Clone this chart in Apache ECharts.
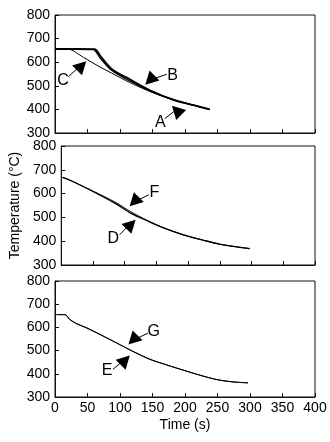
<!DOCTYPE html>
<html><head><meta charset="utf-8">
<script src="https://cdn.jsdelivr.net/npm/echarts@6/dist/echarts.min.js"></script>
<style>html,body{margin:0;padding:0;background:#fff}#c{width:330px;height:442px}</style>
</head><body><div id="c"></div>
<script>
// ---- data ----
const xTicks = [0, 50, 100, 150, 200, 250, 300, 350, 400];
const yTicks = [300, 400, 500, 600, 700, 800];

// panel 1
const tA = [0, 30, 58, 70, 87, 115, 146, 182, 213, 238];
const vA = [655, 655, 654, 615, 566, 520, 478, 440, 418, 400];
const tB = [0, 30, 61, 70, 87, 115, 146, 182, 213, 238];
const vB = [656, 656, 655, 625, 571, 527, 481, 441, 418, 400];
const tC = [0, 20, 44, 67, 87, 115, 146, 182, 213, 238];
const vC = [655, 655, 620, 583, 554, 514, 476, 441, 418, 400];
// panel 2
const tD = [2, 13, 49, 85, 110, 136, 161, 192, 223, 249, 297];
const vD = [668, 657, 610, 559, 517, 485, 456, 427, 405, 388, 369];
const tF = [2, 13, 49, 85, 110, 136, 161, 192, 223, 249, 297];
const vF = [668, 657, 612, 564, 523, 487, 457, 428, 405, 388, 369];
// panel 3
const tE = [2, 15, 23, 33, 49, 70, 95, 120, 146, 172, 197, 223, 249, 274, 297];
const vE = [655, 655, 633, 616, 597, 568, 532, 496, 462, 438, 416, 394, 375, 365, 361];
const tG = [2, 15, 23, 33, 49, 70, 95, 120, 146, 172, 197, 223, 249, 274, 297];
const vG = [655, 655, 634, 617, 598, 569, 533, 497, 463, 438, 416, 394, 375, 365, 361];

// annotations: [panel, letter, triangle pos, leader start, leader end, label pos, rotation]
const notes = [
  [0, 'C', [41, 585], [37, 580], [20.5, 538], [12.5, 522], -45],
  [0, 'B', [146, 524], [150, 528], [172, 549], [181, 545], 135],
  [0, 'A', [187, 396], [183, 391], [169, 361], [162, 346], 45],
  [1, 'F', [115, 566], [119, 570], [138, 595], [147, 604], 135],
  [1, 'D', [110, 471], [106, 466], [92, 427], [82, 412], -45],
  [2, 'G', [120, 546], [124, 550], [143, 575], [152, 582], 135],
  [2, 'E', [108, 459], [104, 454], [89, 419], [80, 412], -45]
];

const FONT = '"Liberation Sans", Arial, sans-serif';
const grids = [
  {left: 55, right: 15, top: 15, height: 118},
  {left: 55, right: 15, top: 146, height: 119},
  {left: 55, right: 15, top: 281, height: 116}
];
grids.forEach(g => { g.show = true; g.borderColor = '#111'; g.borderWidth = 1; });

const xAxes = [0, 1, 2].map(i => ({
  type: 'value', gridIndex: i, min: 0, max: 400, interval: 50,
  axisLine: {show: true, lineStyle: {color: '#111', width: 1}},
  axisTick: {show: true, inside: true, length: 4, lineStyle: {color: '#111'}},
  splitLine: {show: false},
  axisLabel: {show: i === 2, color: '#000', fontSize: 14, fontFamily: FONT, margin: 4},
  name: i === 2 ? 'Time (s)' : '', nameLocation: 'middle', nameGap: 21,
  nameTextStyle: {color: '#000', fontSize: 14, fontFamily: FONT}
}));
const yAxes = [0, 1, 2].map(i => ({
  type: 'value', gridIndex: i, min: 300, max: 800, interval: 100,
  axisLine: {show: true, lineStyle: {color: '#111', width: 1}},
  axisTick: {show: true, inside: true, length: 4, lineStyle: {color: '#111'}},
  splitLine: {show: false},
  axisLabel: {color: '#000', fontSize: 14, fontFamily: FONT, margin: 5},
  name: i === 1 ? 'Temperature (°C)' : '', nameLocation: 'middle', nameGap: 37,
  nameTextStyle: {color: '#000', fontSize: 14, fontFamily: FONT}
}));

function pairs(t, v) { return t.map((x, i) => [x, v[i]]); }
function line(idx, t, v, w) {
  return {type: 'line', xAxisIndex: idx, yAxisIndex: idx, data: pairs(t, v),
    showSymbol: false, symbol: 'none', smooth: 0.3, silent: true,
    lineStyle: {color: '#000', width: w}};
}
const series = [
  line(0, tC, vC, 1), line(0, tA, vA, 1.2), line(0, tB, vB, 2),
  line(1, tD, vD, 1.3), line(1, tF, vF, 1),
  line(2, tE, vE, 1), line(2, tG, vG, 1)
];
// annotation series per panel
[0, 1, 2].forEach(p => {
  const ns = notes.filter(n => n[0] === p);
  series.push({
    type: 'scatter', xAxisIndex: p, yAxisIndex: p, data: [], silent: true,
    markPoint: {
      silent: true, animation: false,
      data: ns.flatMap(n => [
        {coord: n[2], symbol: 'triangle', symbolSize: [14, 13], symbolRotate: n[6],
         itemStyle: {color: '#000'}, label: {show: false}},
        {coord: n[5], symbol: 'circle', symbolSize: 1, itemStyle: {color: 'rgba(0,0,0,0)'},
         label: {show: true, position: 'inside', formatter: n[1], color: '#000', fontSize: 16, fontFamily: FONT}}
      ])
    },
    markLine: {
      silent: true, animation: false, symbol: 'none',
      lineStyle: {color: '#000', width: 1, type: 'solid'}, label: {show: false},
      data: ns.map(n => [{coord: n[3]}, {coord: n[4]}])
    }
  });
});

const chart = echarts.init(document.getElementById('c'), null, {renderer: 'canvas'});
chart.setOption({
  animation: false, backgroundColor: '#fff',
  grid: grids, xAxis: xAxes, yAxis: yAxes, series: series
});
</script></body></html>
